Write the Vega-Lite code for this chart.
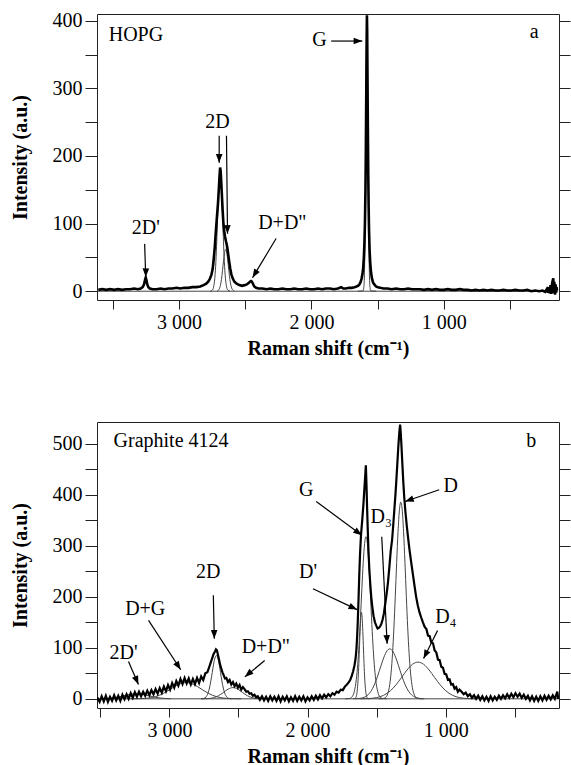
{
  "$schema": "https://vega.github.io/schema/vega-lite/v6.json",
  "padding": {"left": 9, "top": 10, "right": 2, "bottom": 0},
  "config": {
    "font": "Liberation Serif, Times New Roman, Times, serif",
    "view": {"stroke": "#222", "strokeWidth": 1},
    "axis": {"labelFont": "Liberation Serif, Times New Roman, Times, serif", "labelFontSize": 20, "labelColor": "#000", "titleFont": "Liberation Serif, Times New Roman, Times, serif", "titleFontSize": 20, "titleFontWeight": "bold", "titleColor": "#000", "tickColor": "#222", "tickWidth": 1, "domain": false, "grid": false},
    "text": {"font": "Liberation Serif, Times New Roman, Times, serif"},
    "concat": {"spacing": 62}
  },
  "datasets": {
    "specA": [
      {"x":3610,"y":2},{"x":3580,"y":3},{"x":3550,"y":2},{"x":3520,"y":3},{"x":3490,"y":2},{"x":3460,"y":3},{"x":3430,"y":2},{"x":3400,"y":3},{"x":3370,"y":3},{"x":3340,"y":4},{"x":3310,"y":3},{"x":3290,"y":4},{"x":3275,"y":6},{"x":3265,"y":10},{"x":3258,"y":16},{"x":3252,"y":20},{"x":3246,"y":16},{"x":3240,"y":10},{"x":3232,"y":6},{"x":3220,"y":4},{"x":3200,"y":3},{"x":3170,"y":3},{"x":3140,"y":4},{"x":3110,"y":3},{"x":3080,"y":4},{"x":3050,"y":4},{"x":3020,"y":5},{"x":2990,"y":4},{"x":2960,"y":5},{"x":2930,"y":5},{"x":2900,"y":6},{"x":2870,"y":6},{"x":2840,"y":7},{"x":2815,"y":9},{"x":2795,"y":11},{"x":2780,"y":14},{"x":2768,"y":18},{"x":2756,"y":24},{"x":2746,"y":33},{"x":2738,"y":48},{"x":2730,"y":66},{"x":2722,"y":89},{"x":2714,"y":110},{"x":2706,"y":130},{"x":2700,"y":150},{"x":2695,"y":168},{"x":2690,"y":183},{"x":2686,"y":178},{"x":2681,"y":160},{"x":2676,"y":140},{"x":2671,"y":120},{"x":2666,"y":103},{"x":2660,"y":90},{"x":2653,"y":81},{"x":2646,"y":74},{"x":2640,"y":69},{"x":2634,"y":62},{"x":2627,"y":52},{"x":2620,"y":42},{"x":2613,"y":33},{"x":2605,"y":25},{"x":2595,"y":19},{"x":2582,"y":14},{"x":2565,"y":11},{"x":2545,"y":9},{"x":2525,"y":8},{"x":2505,"y":9},{"x":2488,"y":10},{"x":2475,"y":12},{"x":2465,"y":14},{"x":2457,"y":15},{"x":2450,"y":14},{"x":2442,"y":11},{"x":2432,"y":7},{"x":2418,"y":5},{"x":2400,"y":4},{"x":2370,"y":4},{"x":2340,"y":3},{"x":2310,"y":4},{"x":2280,"y":3},{"x":2250,"y":3},{"x":2220,"y":4},{"x":2190,"y":3},{"x":2160,"y":3},{"x":2130,"y":4},{"x":2100,"y":3},{"x":2070,"y":3},{"x":2040,"y":4},{"x":2010,"y":3},{"x":1980,"y":3},{"x":1950,"y":4},{"x":1920,"y":3},{"x":1890,"y":4},{"x":1860,"y":4},{"x":1830,"y":3},{"x":1800,"y":4},{"x":1775,"y":6},{"x":1760,"y":4},{"x":1740,"y":4},{"x":1715,"y":5},{"x":1695,"y":5},{"x":1675,"y":6},{"x":1660,"y":7},{"x":1648,"y":8},{"x":1638,"y":10},{"x":1630,"y":13},{"x":1622,"y":18},{"x":1615,"y":25},{"x":1609,"y":35},{"x":1604,"y":50},{"x":1600,"y":70},{"x":1596,"y":100},{"x":1592,"y":150},{"x":1589,"y":210},{"x":1586,"y":290},{"x":1583,"y":370},{"x":1581,"y":408},{"x":1579,"y":385},{"x":1577,"y":320},{"x":1574,"y":245},{"x":1571,"y":175},{"x":1568,"y":125},{"x":1565,"y":90},{"x":1561,"y":62},{"x":1556,"y":42},{"x":1550,"y":28},{"x":1543,"y":19},{"x":1535,"y":13},{"x":1525,"y":10},{"x":1512,"y":7},{"x":1498,"y":6},{"x":1480,"y":5},{"x":1455,"y":4},{"x":1425,"y":4},{"x":1395,"y":3},{"x":1360,"y":4},{"x":1330,"y":3},{"x":1300,"y":3},{"x":1270,"y":4},{"x":1240,"y":3},{"x":1210,"y":3},{"x":1180,"y":3},{"x":1150,"y":2},{"x":1120,"y":3},{"x":1090,"y":2},{"x":1060,"y":3},{"x":1030,"y":2},{"x":1000,"y":2},{"x":970,"y":3},{"x":940,"y":2},{"x":910,"y":2},{"x":880,"y":3},{"x":850,"y":2},{"x":820,"y":2},{"x":790,"y":1},{"x":760,"y":2},{"x":730,"y":1},{"x":700,"y":2},{"x":670,"y":1},{"x":640,"y":2},{"x":610,"y":1},{"x":580,"y":1},{"x":550,"y":2},{"x":520,"y":1},{"x":490,"y":1},{"x":460,"y":2},{"x":430,"y":1},{"x":400,"y":1},{"x":370,"y":2},{"x":340,"y":0},{"x":310,"y":1},{"x":280,"y":0},{"x":255,"y":1},{"x":235,"y":-1},{"x":222,"y":3},{"x":214,"y":-2},{"x":207,"y":6},{"x":200,"y":-3},{"x":194,"y":9},{"x":188,"y":-4},{"x":182,"y":12},{"x":177,"y":16},{"x":173,"y":19},{"x":169,"y":-3},{"x":165,"y":14},{"x":160,"y":-5},{"x":156,"y":10},{"x":152,"y":-2},{"x":148,"y":6},{"x":145,"y":1}
    ],
    "compA": [
      {"c":"base","x":3615,"y":0},{"c":"base","x":140,"y":0},
      {"c":"G","x":1650,"y":0},{"c":"G","x":1611,"y":0.4},{"c":"G","x":1605,"y":4.5},{"c":"G","x":1600,"y":24.1},{"c":"G","x":1596,"y":70},{"c":"G","x":1593,"y":131.5},{"c":"G","x":1590,"y":215.1},{"c":"G","x":1587,"y":305.8},{"c":"G","x":1584,"y":377.5},{"c":"G","x":1581,"y":405},{"c":"G","x":1578,"y":377.5},{"c":"G","x":1575,"y":305.8},{"c":"G","x":1572,"y":215.1},{"c":"G","x":1569,"y":131.5},{"c":"G","x":1566,"y":70},{"c":"G","x":1562,"y":24.1},{"c":"G","x":1557,"y":4.5},{"c":"G","x":1551,"y":0.4},{"c":"G","x":1510,"y":0},
      {"c":"2D2","x":2765,"y":0},{"c":"2D2","x":2747,"y":2},{"c":"2D2","x":2737,"y":8.4},{"c":"2D2","x":2728,"y":24.4},{"c":"2D2","x":2720,"y":51.7},{"c":"2D2","x":2714,"y":81},{"c":"2D2","x":2708,"y":114.9},{"c":"2D2","x":2702,"y":147.4},{"c":"2D2","x":2696,"y":171.2},{"c":"2D2","x":2690,"y":180},{"c":"2D2","x":2684,"y":171.2},{"c":"2D2","x":2678,"y":147.4},{"c":"2D2","x":2672,"y":114.9},{"c":"2D2","x":2666,"y":81},{"c":"2D2","x":2660,"y":51.7},{"c":"2D2","x":2652,"y":24.4},{"c":"2D2","x":2643,"y":8.4},{"c":"2D2","x":2633,"y":2},{"c":"2D2","x":2615,"y":0},
      {"c":"2D1","x":2713,"y":0.3},{"c":"2D1","x":2698,"y":2.7},{"c":"2D1","x":2688,"y":8.4},{"c":"2D1","x":2680,"y":17.2},{"c":"2D1","x":2672,"y":30.2},{"c":"2D1","x":2664,"y":45},{"c":"2D1","x":2656,"y":57.2},{"c":"2D1","x":2648,"y":62},{"c":"2D1","x":2640,"y":57.2},{"c":"2D1","x":2632,"y":45},{"c":"2D1","x":2624,"y":30.2},{"c":"2D1","x":2616,"y":17.2},{"c":"2D1","x":2608,"y":8.4},{"c":"2D1","x":2598,"y":2.7},{"c":"2D1","x":2583,"y":0.3}
    ],
    "arrA": [
      {"x":1851,"y":370,"x2":1616,"y2":370},
      {"x":2697,"y":230,"x2":2697,"y2":190},
      {"x":2642,"y":230,"x2":2634,"y2":85},
      {"x":3260,"y":70,"x2":3252,"y2":21},
      {"x":2267,"y":78,"x2":2445,"y2":20}
    ],
    "headA": [
      {"x":1616,"y":370,"ang":90},
      {"x":2697,"y":190,"ang":180},
      {"x":2634,"y":85,"ang":179},
      {"x":3252,"y":21,"ang":181},
      {"x":2445,"y":20,"ang":211}
    ],
    "labA": [
      {"x":3326,"y":379,"t":"HOPG"},
      {"x":318,"y":383,"t":"a"},
      {"x":1939,"y":372,"t":"G"},
      {"x":2710,"y":250,"t":"2D"},
      {"x":3252,"y":94,"t":"2D'"},
      {"x":2220,"y":101,"t":"D+D\""}
    ],
    "specB": [
      {"x":3522,"y":3},{"x":3505,"y":-6},{"x":3490,"y":5},{"x":3475,"y":-5},{"x":3460,"y":6},{"x":3445,"y":-6},{"x":3430,"y":4},{"x":3415,"y":-4},{"x":3400,"y":7},{"x":3385,"y":-3},{"x":3370,"y":6},{"x":3355,"y":-4},{"x":3340,"y":8},{"x":3325,"y":-1},{"x":3310,"y":9},{"x":3295,"y":0},{"x":3280,"y":11},{"x":3265,"y":2},{"x":3250,"y":13},{"x":3235,"y":4},{"x":3220,"y":14},{"x":3205,"y":5},{"x":3190,"y":14},{"x":3175,"y":6},{"x":3160,"y":16},{"x":3145,"y":7},{"x":3130,"y":17},{"x":3115,"y":9},{"x":3100,"y":19},{"x":3085,"y":10},{"x":3070,"y":21},{"x":3055,"y":12},{"x":3040,"y":24},{"x":3025,"y":15},{"x":3010,"y":27},{"x":2995,"y":18},{"x":2980,"y":31},{"x":2965,"y":22},{"x":2950,"y":35},{"x":2935,"y":26},{"x":2920,"y":39},{"x":2905,"y":29},{"x":2890,"y":41},{"x":2875,"y":30},{"x":2860,"y":40},{"x":2845,"y":28},{"x":2830,"y":39},{"x":2815,"y":29},{"x":2800,"y":41},{"x":2785,"y":31},{"x":2770,"y":44},{"x":2755,"y":37},{"x":2740,"y":50},{"x":2725,"y":52},{"x":2712,"y":62},{"x":2700,"y":72},{"x":2690,"y":80},{"x":2680,"y":88},{"x":2670,"y":93},{"x":2663,"y":97},{"x":2656,"y":95},{"x":2648,"y":86},{"x":2640,"y":76},{"x":2632,"y":66},{"x":2624,"y":59},{"x":2616,"y":52},{"x":2608,"y":47},{"x":2598,"y":40},{"x":2588,"y":41},{"x":2576,"y":33},{"x":2564,"y":37},{"x":2552,"y":28},{"x":2540,"y":33},{"x":2528,"y":25},{"x":2516,"y":30},{"x":2504,"y":22},{"x":2492,"y":27},{"x":2480,"y":18},{"x":2468,"y":23},{"x":2456,"y":19},{"x":2444,"y":14},{"x":2432,"y":15},{"x":2420,"y":10},{"x":2408,"y":11},{"x":2396,"y":6},{"x":2384,"y":8},{"x":2372,"y":3},{"x":2360,"y":5},{"x":2345,"y":-2},{"x":2330,"y":5},{"x":2315,"y":-3},{"x":2300,"y":4},{"x":2285,"y":-4},{"x":2270,"y":5},{"x":2255,"y":-3},{"x":2240,"y":4},{"x":2225,"y":-4},{"x":2210,"y":5},{"x":2195,"y":-5},{"x":2180,"y":4},{"x":2165,"y":-3},{"x":2150,"y":5},{"x":2135,"y":-5},{"x":2120,"y":3},{"x":2105,"y":-4},{"x":2090,"y":5},{"x":2075,"y":-4},{"x":2060,"y":4},{"x":2045,"y":-3},{"x":2030,"y":5},{"x":2015,"y":-5},{"x":2000,"y":3},{"x":1985,"y":-3},{"x":1970,"y":5},{"x":1955,"y":-2},{"x":1940,"y":6},{"x":1925,"y":-1},{"x":1910,"y":7},{"x":1895,"y":1},{"x":1880,"y":8},{"x":1865,"y":3},{"x":1850,"y":9},{"x":1835,"y":5},{"x":1820,"y":11},{"x":1805,"y":8},{"x":1790,"y":14},{"x":1775,"y":12},{"x":1760,"y":18},{"x":1745,"y":17},{"x":1730,"y":24},{"x":1715,"y":28},{"x":1700,"y":33},{"x":1690,"y":38},{"x":1680,"y":45},{"x":1670,"y":54},{"x":1660,"y":66},{"x":1652,"y":80},{"x":1646,"y":98},{"x":1641,"y":122},{"x":1636,"y":155},{"x":1631,"y":195},{"x":1626,"y":240},{"x":1620,"y":285},{"x":1613,"y":322},{"x":1605,"y":348},{"x":1596,"y":380},{"x":1588,"y":415},{"x":1582,"y":440},{"x":1578,"y":458},{"x":1574,"y":425},{"x":1569,"y":375},{"x":1564,"y":330},{"x":1559,"y":290},{"x":1553,"y":255},{"x":1546,"y":225},{"x":1539,"y":200},{"x":1531,"y":180},{"x":1522,"y":162},{"x":1512,"y":150},{"x":1502,"y":143},{"x":1493,"y":138},{"x":1484,"y":139},{"x":1475,"y":142},{"x":1466,"y":147},{"x":1457,"y":155},{"x":1447,"y":168},{"x":1437,"y":188},{"x":1428,"y":205},{"x":1418,"y":228},{"x":1408,"y":258},{"x":1398,"y":290},{"x":1388,"y":312},{"x":1380,"y":340},{"x":1372,"y":370},{"x":1364,"y":400},{"x":1357,"y":430},{"x":1350,"y":462},{"x":1343,"y":495},{"x":1336,"y":522},{"x":1330,"y":538},{"x":1325,"y":520},{"x":1320,"y":495},{"x":1314,"y":462},{"x":1307,"y":425},{"x":1300,"y":395},{"x":1292,"y":368},{"x":1282,"y":340},{"x":1272,"y":315},{"x":1262,"y":292},{"x":1250,"y":268},{"x":1238,"y":245},{"x":1226,"y":222},{"x":1214,"y":200},{"x":1202,"y":183},{"x":1190,"y":170},{"x":1178,"y":160},{"x":1165,"y":150},{"x":1152,"y":141},{"x":1140,"y":137},{"x":1128,"y":124},{"x":1116,"y":123},{"x":1104,"y":110},{"x":1092,"y":109},{"x":1080,"y":95},{"x":1068,"y":91},{"x":1056,"y":77},{"x":1044,"y":76},{"x":1032,"y":63},{"x":1020,"y":61},{"x":1008,"y":49},{"x":996,"y":48},{"x":984,"y":37},{"x":972,"y":38},{"x":960,"y":28},{"x":948,"y":29},{"x":936,"y":20},{"x":924,"y":23},{"x":912,"y":14},{"x":900,"y":18},{"x":885,"y":14},{"x":870,"y":9},{"x":855,"y":12},{"x":840,"y":5},{"x":825,"y":9},{"x":810,"y":2},{"x":795,"y":7},{"x":780,"y":0},{"x":765,"y":6},{"x":750,"y":-2},{"x":735,"y":5},{"x":720,"y":-3},{"x":705,"y":4},{"x":690,"y":-4},{"x":675,"y":5},{"x":660,"y":-3},{"x":645,"y":4},{"x":630,"y":-2},{"x":615,"y":6},{"x":600,"y":0},{"x":585,"y":7},{"x":570,"y":1},{"x":555,"y":9},{"x":540,"y":2},{"x":525,"y":10},{"x":510,"y":3},{"x":495,"y":11},{"x":480,"y":4},{"x":465,"y":10},{"x":450,"y":2},{"x":435,"y":8},{"x":420,"y":0},{"x":405,"y":6},{"x":390,"y":-3},{"x":375,"y":5},{"x":360,"y":-4},{"x":345,"y":4},{"x":330,"y":-4},{"x":315,"y":5},{"x":300,"y":-3},{"x":285,"y":6},{"x":270,"y":-2},{"x":255,"y":6},{"x":240,"y":-1},{"x":225,"y":7},{"x":210,"y":0},{"x":200,"y":8},{"x":192,"y":14},{"x":186,"y":0},{"x":182,"y":6}
    ],
    "compB": [
      {"c":"base","x":3522,"y":0},{"c":"base","x":182,"y":0},
      {"c":"2Dp","x":3490,"y":0.2},{"c":"2Dp","x":3420,"y":1.4},{"c":"2Dp","x":3360,"y":4.1},{"c":"2Dp","x":3300,"y":8},{"c":"2Dp","x":3240,"y":10},{"c":"2Dp","x":3180,"y":8},{"c":"2Dp","x":3120,"y":4.1},{"c":"2Dp","x":3060,"y":1.4},{"c":"2Dp","x":2990,"y":0.2},
      {"c":"DG","x":3280,"y":0},{"c":"DG","x":3210,"y":0.4},{"c":"DG","x":3155,"y":1.4},{"c":"DG","x":3100,"y":4.3},{"c":"DG","x":3045,"y":10.4},{"c":"DG","x":2990,"y":19.4},{"c":"DG","x":2935,"y":28.2},{"c":"DG","x":2880,"y":32},{"c":"DG","x":2825,"y":28.2},{"c":"DG","x":2770,"y":19.4},{"c":"DG","x":2715,"y":10.4},{"c":"DG","x":2660,"y":4.3},{"c":"DG","x":2605,"y":1.4},{"c":"DG","x":2550,"y":0.4},{"c":"DG","x":2480,"y":0},
      {"c":"2D","x":2770,"y":0},{"c":"2D","x":2750,"y":0.9},{"c":"2D","x":2735,"y":3.7},{"c":"2D","x":2720,"y":11.5},{"c":"2D","x":2710,"y":21.2},{"c":"2D","x":2700,"y":35},{"c":"2D","x":2690,"y":51.6},{"c":"2D","x":2680,"y":68.1},{"c":"2D","x":2670,"y":80.4},{"c":"2D","x":2660,"y":85},{"c":"2D","x":2650,"y":80.4},{"c":"2D","x":2640,"y":68.1},{"c":"2D","x":2630,"y":51.6},{"c":"2D","x":2620,"y":35},{"c":"2D","x":2610,"y":21.2},{"c":"2D","x":2600,"y":11.5},{"c":"2D","x":2585,"y":3.7},{"c":"2D","x":2570,"y":0.9},{"c":"2D","x":2550,"y":0},
      {"c":"DD","x":2770,"y":0},{"c":"DD","x":2720,"y":0.5},{"c":"DD","x":2680,"y":2.2},{"c":"DD","x":2645,"y":6},{"c":"DD","x":2610,"y":12.3},{"c":"DD","x":2575,"y":19},{"c":"DD","x":2540,"y":22},{"c":"DD","x":2505,"y":19},{"c":"DD","x":2470,"y":12.3},{"c":"DD","x":2435,"y":6},{"c":"DD","x":2400,"y":2.2},{"c":"DD","x":2360,"y":0.5},{"c":"DD","x":2310,"y":0},
      {"c":"G","x":1727,"y":0},{"c":"G","x":1697,"y":0.6},{"c":"G","x":1677,"y":4.2},{"c":"G","x":1662,"y":14},{"c":"G","x":1647,"y":38.2},{"c":"G","x":1637,"y":67},{"c":"G","x":1627,"y":107.9},{"c":"G","x":1617,"y":159.2},{"c":"G","x":1607,"y":215.5},{"c":"G","x":1597,"y":267.5},{"c":"G","x":1587,"y":304.5},{"c":"G","x":1577,"y":318},{"c":"G","x":1567,"y":304.5},{"c":"G","x":1557,"y":267.5},{"c":"G","x":1547,"y":215.5},{"c":"G","x":1537,"y":159.2},{"c":"G","x":1527,"y":107.9},{"c":"G","x":1517,"y":67},{"c":"G","x":1507,"y":38.2},{"c":"G","x":1492,"y":14},{"c":"G","x":1477,"y":4.2},{"c":"G","x":1457,"y":0.6},{"c":"G","x":1427,"y":0},
      {"c":"Dp","x":1670,"y":0},{"c":"Dp","x":1658,"y":0.5},{"c":"Dp","x":1648,"y":4.3},{"c":"Dp","x":1640,"y":17.1},{"c":"Dp","x":1635,"y":34.5},{"c":"Dp","x":1630,"y":61.3},{"c":"Dp","x":1625,"y":95.8},{"c":"Dp","x":1620,"y":131.7},{"c":"Dp","x":1615,"y":159.5},{"c":"Dp","x":1610,"y":170},{"c":"Dp","x":1605,"y":159.5},{"c":"Dp","x":1600,"y":131.7},{"c":"Dp","x":1595,"y":95.8},{"c":"Dp","x":1590,"y":61.3},{"c":"Dp","x":1585,"y":34.5},{"c":"Dp","x":1580,"y":17.1},{"c":"Dp","x":1572,"y":4.3},{"c":"Dp","x":1562,"y":0.5},{"c":"Dp","x":1550,"y":0},
      {"c":"D","x":1485,"y":0},{"c":"D","x":1455,"y":0.4},{"c":"D","x":1435,"y":2.8},{"c":"D","x":1420,"y":9.7},{"c":"D","x":1405,"y":28.3},{"c":"D","x":1395,"y":52.2},{"c":"D","x":1385,"y":88.8},{"c":"D","x":1375,"y":139.2},{"c":"D","x":1365,"y":200.8},{"c":"D","x":1355,"y":267.3},{"c":"D","x":1345,"y":327.9},{"c":"D","x":1335,"y":370.6},{"c":"D","x":1325,"y":386},{"c":"D","x":1315,"y":370.6},{"c":"D","x":1305,"y":327.9},{"c":"D","x":1295,"y":267.3},{"c":"D","x":1285,"y":200.8},{"c":"D","x":1275,"y":139.2},{"c":"D","x":1265,"y":88.8},{"c":"D","x":1255,"y":52.2},{"c":"D","x":1245,"y":28.3},{"c":"D","x":1230,"y":9.7},{"c":"D","x":1215,"y":2.8},{"c":"D","x":1195,"y":0.4},{"c":"D","x":1165,"y":0},
      {"c":"D3","x":1655,"y":0.2},{"c":"D3","x":1615,"y":1.1},{"c":"D3","x":1585,"y":3.6},{"c":"D3","x":1555,"y":9.9},{"c":"D3","x":1530,"y":19.9},{"c":"D3","x":1505,"y":35.3},{"c":"D3","x":1480,"y":55.2},{"c":"D3","x":1455,"y":76},{"c":"D3","x":1430,"y":91.9},{"c":"D3","x":1405,"y":98},{"c":"D3","x":1380,"y":91.9},{"c":"D3","x":1355,"y":76},{"c":"D3","x":1330,"y":55.2},{"c":"D3","x":1305,"y":35.3},{"c":"D3","x":1280,"y":19.9},{"c":"D3","x":1255,"y":9.9},{"c":"D3","x":1225,"y":3.6},{"c":"D3","x":1195,"y":1.1},{"c":"D3","x":1155,"y":0.2},
      {"c":"D4","x":1620,"y":0},{"c":"D4","x":1560,"y":0.5},{"c":"D4","x":1500,"y":2.4},{"c":"D4","x":1450,"y":6.8},{"c":"D4","x":1400,"y":15.9},{"c":"D4","x":1360,"y":27.4},{"c":"D4","x":1320,"y":41.8},{"c":"D4","x":1280,"y":56.5},{"c":"D4","x":1240,"y":67.8},{"c":"D4","x":1200,"y":72},{"c":"D4","x":1160,"y":67.8},{"c":"D4","x":1120,"y":56.5},{"c":"D4","x":1080,"y":41.8},{"c":"D4","x":1040,"y":27.4},{"c":"D4","x":1000,"y":15.9},{"c":"D4","x":950,"y":6.8},{"c":"D4","x":900,"y":2.4},{"c":"D4","x":840,"y":0.5},{"c":"D4","x":780,"y":0}
    ],
    "arrB": [
      {"x":1937,"y":387,"x2":1607,"y2":321},
      {"x":1047,"y":410,"x2":1294,"y2":387},
      {"x":1463,"y":318,"x2":1424,"y2":108},
      {"x":1059,"y":134,"x2":1160,"y2":79},
      {"x":1961,"y":216,"x2":1641,"y2":175},
      {"x":2682,"y":203,"x2":2675,"y2":118},
      {"x":3151,"y":154,"x2":2918,"y2":57},
      {"x":3296,"y":73,"x2":3224,"y2":28},
      {"x":2310,"y":75,"x2":2454,"y2":43}
    ],
    "headB": [
      {"x":1607,"y":321,"ang":126},
      {"x":1294,"y":387,"ang":251},
      {"x":1424,"y":108,"ang":177},
      {"x":1160,"y":79,"ang":206},
      {"x":1641,"y":175,"ang":115},
      {"x":2675,"y":118,"ang":179},
      {"x":2918,"y":57,"ang":147},
      {"x":3224,"y":28,"ang":157},
      {"x":2454,"y":43,"ang":230}
    ],
    "labB": [
      {"x":2988,"y":505,"t":"Graphite 4124"},
      {"x":381,"y":506,"t":"b"},
      {"x":2009,"y":410,"t":"G"},
      {"x":963,"y":418,"t":"D"},
      {"x":1467,"y":357,"t":"D₃"},
      {"x":999,"y":161,"t":"D₄"},
      {"x":1997,"y":249,"t":"D'"},
      {"x":2719,"y":249,"t":"2D"},
      {"x":3175,"y":177,"t":"D+G"},
      {"x":3332,"y":89,"t":"2D'"},
      {"x":2302,"y":101,"t":"D+D\""}
    ]
  },
  "vconcat": [
    {
      "width": 462,
      "height": 286,
      "encoding": {
        "x": {"field": "x", "type": "quantitative", "scale": {"domain": [130, 3620], "reverse": true, "nice": false, "zero": false}, "title": "Raman shift (cm⁻¹)",
              "axis": {"values": [500,1000,1500,2000,2500,3000,3500], "labelExpr": "datum.value % 1000 === 0 ? (datum.value / 1000) + ' 000' : ''", "tickSize": 9, "labelPadding": 3, "titlePadding": 6}},
        "y": {"field": "y", "type": "quantitative", "scale": {"domain": [-13, 410], "nice": false, "zero": false}, "axis": null}
      },
      "layer": [
        {"data": {"name": "compA"}, "mark": {"type": "line", "color": "#444", "strokeWidth": 1, "interpolate": "monotone", "clip": true},
         "encoding": {"detail": {"field": "c"},
           "y": {"field": "y", "type": "quantitative", "scale": {"domain": [-13, 410], "nice": false, "zero": false}, "axis": {"orient": "right", "values": [0,50,100,150,200,250,300,350,400], "labels": false, "tickSize": 11, "title": null}}}},
        {"data": {"name": "specA"}, "mark": {"type": "line", "color": "#000", "strokeWidth": 2.6, "clip": true},
         "encoding": {
           "y": {"field": "y", "type": "quantitative", "scale": {"domain": [-13, 410], "nice": false, "zero": false}, "title": "Intensity (a.u.)",
                 "axis": {"orient": "left", "values": [0,50,100,150,200,250,300,350,400], "labelExpr": "datum.value % 100 === 0 ? datum.label : ''", "tickSize": 12, "labelPadding": 3, "titlePadding": 22}}}},
        {"data": {"name": "arrA"}, "mark": {"type": "rule", "color": "#000", "strokeWidth": 1.2},
         "encoding": {"x2": {"field": "x2"}, "y2": {"field": "y2"}}},
        {"data": {"name": "headA"}, "mark": {"type": "point", "shape": "M0,0L-0.38,1L0.38,1Z", "filled": true, "color": "#000", "size": 300, "opacity": 1},
         "encoding": {"angle": {"field": "ang", "type": "quantitative", "scale": null}}},
        {"data": {"name": "labA"}, "mark": {"type": "text", "font": "Liberation Serif, Times New Roman, Times, serif", "fontSize": 20, "color": "#000", "baseline": "middle", "align": "center"},
         "encoding": {"text": {"field": "t"}}}
      ],
      "resolve": {"axis": {"y": "independent"}}
    },
    {
      "width": 462,
      "height": 286,
      "encoding": {
        "x": {"field": "x", "type": "quantitative", "scale": {"domain": [180, 3524], "reverse": true, "nice": false, "zero": false}, "title": "Raman shift (cm⁻¹)",
              "axis": {"values": [500,1000,1500,2000,2500,3000,3500], "labelExpr": "datum.value % 1000 === 0 ? (datum.value / 1000) + ' 000' : ''", "tickSize": 9, "labelPadding": 3, "titlePadding": 6}},
        "y": {"field": "y", "type": "quantitative", "scale": {"domain": [-18, 543], "nice": false, "zero": false}, "axis": null}
      },
      "layer": [
        {"data": {"name": "compB"}, "mark": {"type": "line", "color": "#444", "strokeWidth": 1, "interpolate": "monotone", "clip": true},
         "encoding": {"detail": {"field": "c"},
           "y": {"field": "y", "type": "quantitative", "scale": {"domain": [-18, 543], "nice": false, "zero": false}, "axis": {"orient": "right", "values": [0,50,100,150,200,250,300,350,400,450,500], "labels": false, "tickSize": 11, "title": null}}}},
        {"data": {"name": "specB"}, "mark": {"type": "line", "color": "#000", "strokeWidth": 2.2, "clip": true},
         "encoding": {
           "y": {"field": "y", "type": "quantitative", "scale": {"domain": [-18, 543], "nice": false, "zero": false}, "title": "Intensity (a.u.)",
                 "axis": {"orient": "left", "values": [0,50,100,150,200,250,300,350,400,450,500], "labelExpr": "datum.value % 100 === 0 ? datum.label : ''", "tickSize": 12, "labelPadding": 3, "titlePadding": 22}}}},
        {"data": {"name": "arrB"}, "mark": {"type": "rule", "color": "#000", "strokeWidth": 1.2},
         "encoding": {"x2": {"field": "x2"}, "y2": {"field": "y2"}}},
        {"data": {"name": "headB"}, "mark": {"type": "point", "shape": "M0,0L-0.38,1L0.38,1Z", "filled": true, "color": "#000", "size": 300, "opacity": 1},
         "encoding": {"angle": {"field": "ang", "type": "quantitative", "scale": null}}},
        {"data": {"name": "labB"}, "mark": {"type": "text", "font": "Liberation Serif, Times New Roman, Times, serif", "fontSize": 20, "color": "#000", "baseline": "middle", "align": "center"},
         "encoding": {"text": {"field": "t"}}}
      ],
      "resolve": {"axis": {"y": "independent"}}
    }
  ]
}
